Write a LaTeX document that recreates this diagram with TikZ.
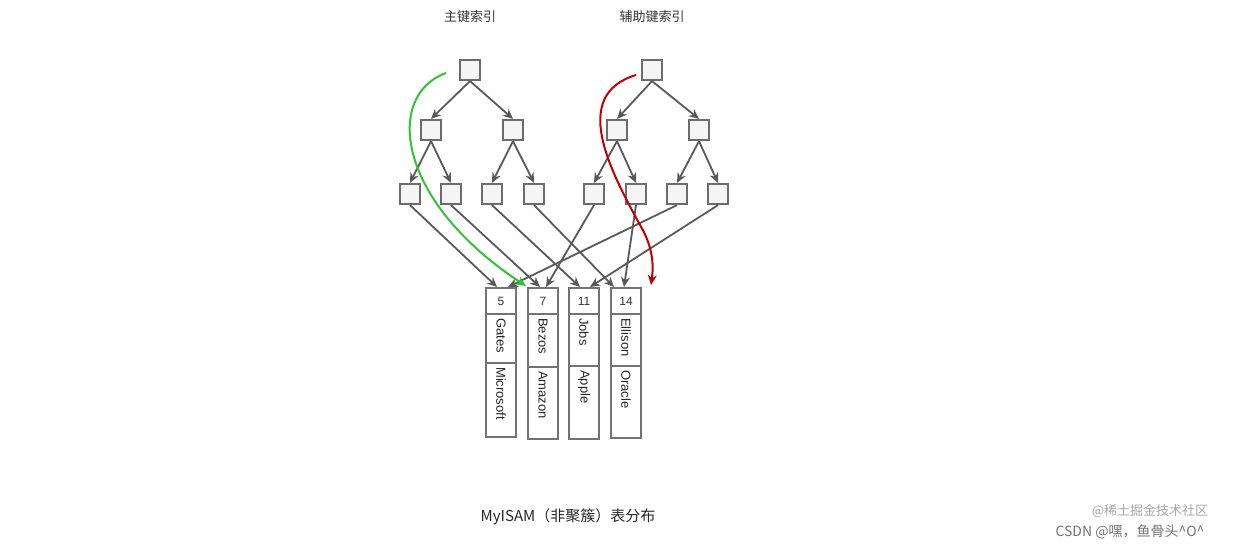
\documentclass[tikz,border=0pt]{standalone}
\usepackage{fontspec}
\setmainfont{Liberation Sans}
\newfontfamily\cjk{Noto Sans CJK SC}
\usetikzlibrary{arrows.meta}
\begin{document}
\begin{tikzpicture}[x=1pt,y=-1pt,
  tn/.style={draw=gray!85!black,line width=2.2pt,fill=gray!8,minimum size=20pt,inner sep=0pt},
  ed/.style={draw=black!65,line width=1.8pt,-{Stealth[length=10pt,width=9pt]}},
  cell/.style={draw=black!55,line width=1.8pt,fill=white},
  vt/.style={rotate=-90,font=\fontsize{13}{15}\selectfont,text=black!85}]
\useasboundingbox (0,0) rectangle (1244,549);
\node[font=\cjk\fontsize{13}{15}\selectfont,text=black!80] (t1) at (470,17) {主键索引};
\node[font=\cjk\fontsize{13}{15}\selectfont,text=black!80] (t2) at (652,17) {辅助键索引};
% records
\foreach \i/\x/\n/\a/\b/\m/\e in {1/501/5/Gates/Microsoft/363/437,2/543/7/Bezos/Amazon/367/439,3/584/11/Jobs/Apple/366/439,4/626/14/Ellison/Oracle/366/438}{
  \draw[cell] (\x-15,288) rectangle (\x+15,\e);
  \draw[cell] (\x-15,314) -- (\x+15,314);
  \draw[cell] (\x-15,\m) -- (\x+15,\m);
  \node[font=\fontsize{12}{14}\selectfont,text=black!80] (n\i) at (\x,301) {\n};
  \node[vt,anchor=west,inner sep=2pt] (a\i) at (\x,316) {\a};
  \node[vt,anchor=west,inner sep=2pt] (b\i) at (\x,\m+2) {\b};
  \coordinate (r\i) at (\x,287);
}
\node[tn] (L) at (470,70) {};
\node[tn] (L1) at (431,130) {};
\node[tn] (L2) at (513,130) {};
\node[tn] (L11) at (410,194) {};
\node[tn] (L12) at (451,194) {};
\node[tn] (L21) at (492,194) {};
\node[tn] (L22) at (534,194) {};
\node[tn] (R) at (652,70) {};
\node[tn] (R1) at (617,130) {};
\node[tn] (R2) at (699,130) {};
\node[tn] (R11) at (594,194) {};
\node[tn] (R12) at (636,194) {};
\node[tn] (R21) at (677,194) {};
\node[tn] (R22) at (718,194) {};
\foreach \p/\c in {L/L1,L/L2,L1/L11,L1/L12,L2/L21,L2/L22,R/R1,R/R2,R1/R11,R1/R12,R2/R21,R2/R22}
  \draw[ed] (\p.south) -- (\c.north);
\coordinate (e1) at (497,287); \coordinate (e2) at (540,287);
\coordinate (e3) at (580,287); \coordinate (e4) at (614,287);
\coordinate (f2) at (546,287); \coordinate (f4) at (624,287);
\coordinate (f1) at (508,287); \coordinate (f3) at (590,287);
\draw[ed] (L11.south) -- (e1);
\draw[ed] (L12.south) -- (e2);
\draw[ed] (L21.south) -- (e3);
\draw[ed] (L22.south) -- (e4);
\draw[ed] (R11.south) -- (f2);
\draw[ed] (R12.south) -- (f4);
\draw[ed] (R21.south) -- (f1);
\draw[ed] (R22.south) -- (f3);
\coordinate (gs) at (446,73); \coordinate (ge) at (526,286);
\coordinate (rs) at (636,75); \coordinate (re) at (651,285);
\draw[green!70!black!80,line width=2pt,-{Stealth[length=10pt,width=9pt]}] (gs) .. controls (385,95) and (395,200) .. (ge);
\draw[red!75!black,line width=2pt,-{Stealth[length=10pt,width=9pt]}] (rs) .. controls (570,95) and (610,170) .. (640,225) .. controls (655,250) and (653,270) .. (re);
\node[font=\cjk\fontsize{15}{17}\selectfont,text=black!85] (cap) at (568,517) {MyISAM（非聚簇）表分布};
\node[font=\cjk\fontsize{13}{15}\selectfont,text=black!35] (w2) at (1150,511) {@稀土掘金技术社区};
\node[font=\cjk\fontsize{14}{16}\selectfont,text=black!55] (w1) at (1130,532) {CSDN @嘿，鱼骨头\textasciicircum O\textasciicircum};
\end{tikzpicture}
\end{document}
